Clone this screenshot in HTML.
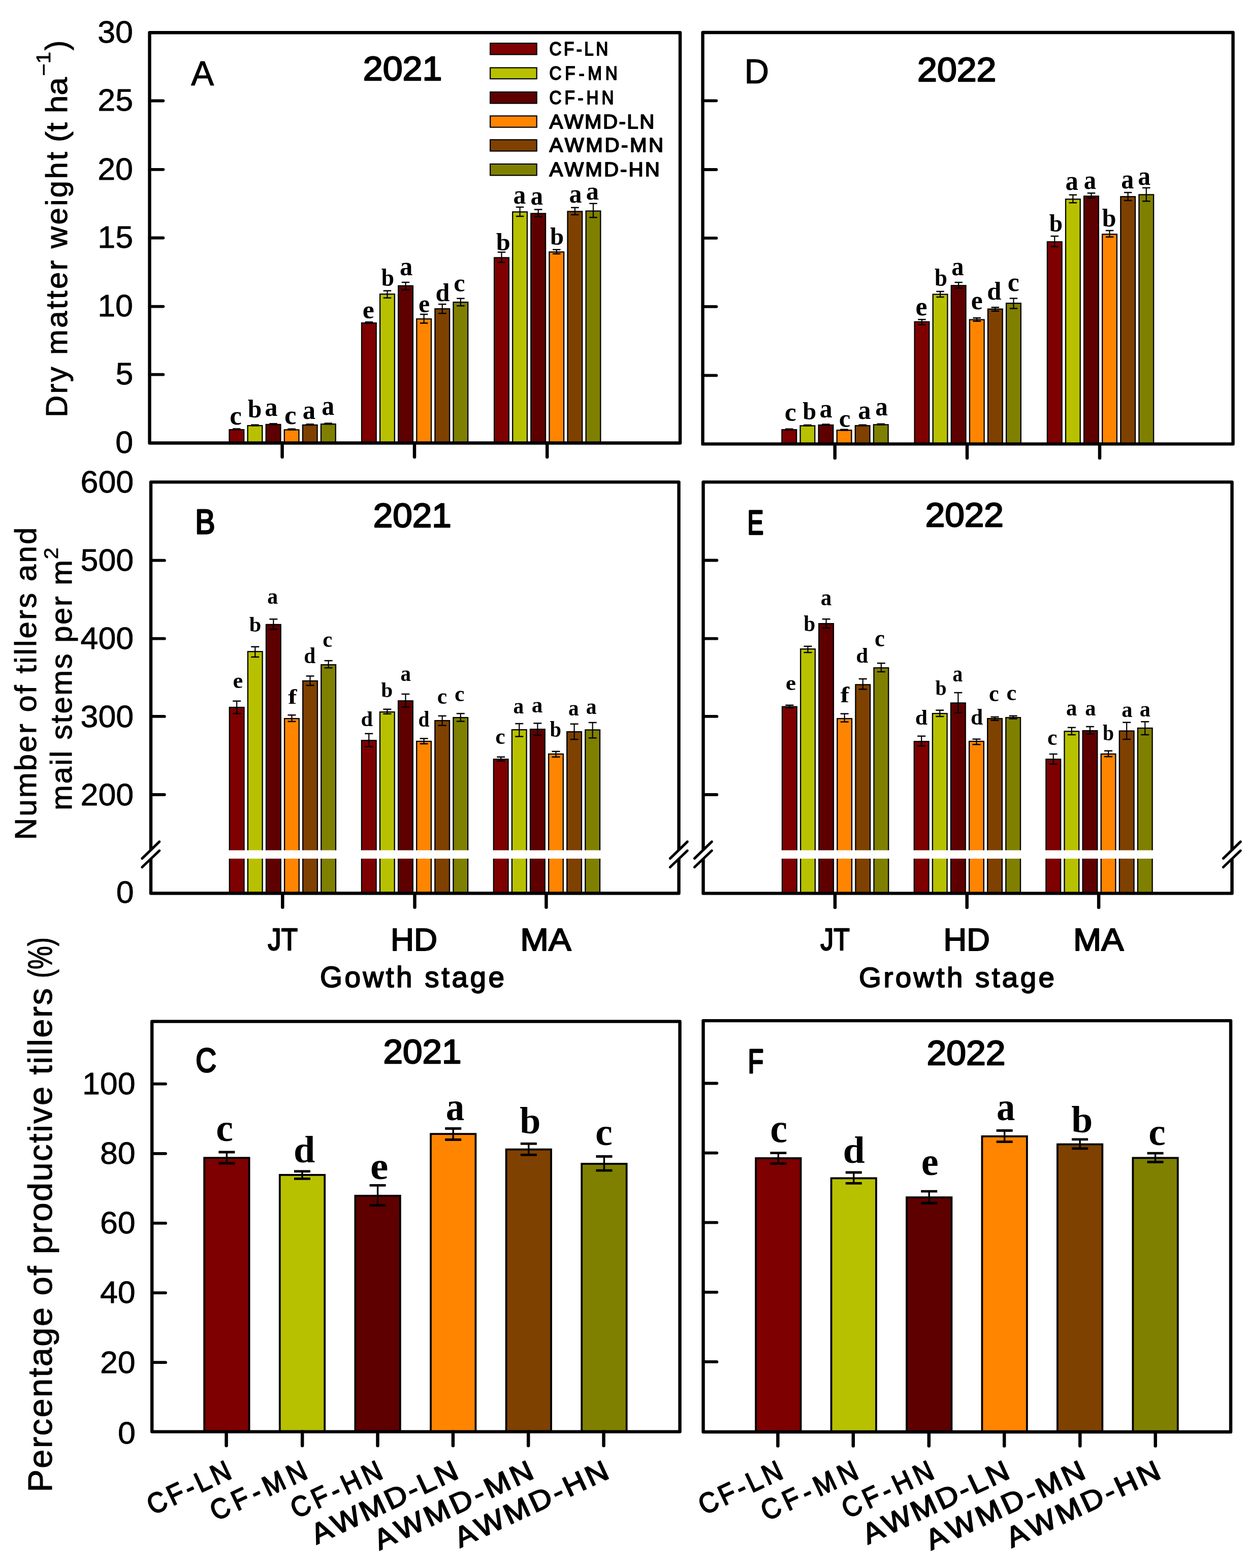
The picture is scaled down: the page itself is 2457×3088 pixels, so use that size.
<!DOCTYPE html>
<html><head><meta charset="utf-8"><title>Figure</title><style>html,body{margin:0;padding:0;background:#fff;width:2457px;height:3088px;overflow:hidden}text{font-kerning:none}</style></head><body>
<svg width="2457" height="3088" viewBox="0 0 2457 3088" style="display:block;font-kerning:none">
<rect x="0" y="0" width="2457" height="3088" fill="#fff"/>
<rect x="451.5" y="846.15" width="28.7" height="27.2" fill="#7e0000" stroke="#000" stroke-width="2.3"/>
<rect x="487.6" y="838.15" width="28.7" height="35.2" fill="#b8c100" stroke="#000" stroke-width="2.3"/>
<rect x="523.7" y="835.95" width="28.7" height="37.4" fill="#5e0000" stroke="#000" stroke-width="2.3"/>
<rect x="559.8" y="846.45" width="28.7" height="26.9" fill="#ff8500" stroke="#000" stroke-width="2.3"/>
<rect x="595.9" y="836.95" width="28.7" height="36.4" fill="#7f4100" stroke="#000" stroke-width="2.3"/>
<rect x="632" y="835.15" width="28.7" height="38.2" fill="#808000" stroke="#000" stroke-width="2.3"/>
<line x1="465.85" y1="844.5" x2="465.85" y2="846.1" stroke="#000" stroke-width="2.2" stroke-linecap="butt"/>
<line x1="458.1" y1="844.5" x2="473.6" y2="844.5" stroke="#000" stroke-width="2.5" stroke-linecap="butt"/>
<line x1="458.1" y1="846.1" x2="473.6" y2="846.1" stroke="#000" stroke-width="2.5" stroke-linecap="butt"/>
<line x1="501.95" y1="836.7" x2="501.95" y2="838.3" stroke="#000" stroke-width="2.2" stroke-linecap="butt"/>
<line x1="494.2" y1="836.7" x2="509.7" y2="836.7" stroke="#000" stroke-width="2.5" stroke-linecap="butt"/>
<line x1="494.2" y1="838.3" x2="509.7" y2="838.3" stroke="#000" stroke-width="2.5" stroke-linecap="butt"/>
<line x1="538.05" y1="834.4" x2="538.05" y2="836" stroke="#000" stroke-width="2.2" stroke-linecap="butt"/>
<line x1="530.3" y1="834.4" x2="545.8" y2="834.4" stroke="#000" stroke-width="2.5" stroke-linecap="butt"/>
<line x1="530.3" y1="836" x2="545.8" y2="836" stroke="#000" stroke-width="2.5" stroke-linecap="butt"/>
<line x1="574.15" y1="844.8" x2="574.15" y2="846.4" stroke="#000" stroke-width="2.2" stroke-linecap="butt"/>
<line x1="566.4" y1="844.8" x2="581.9" y2="844.8" stroke="#000" stroke-width="2.5" stroke-linecap="butt"/>
<line x1="566.4" y1="846.4" x2="581.9" y2="846.4" stroke="#000" stroke-width="2.5" stroke-linecap="butt"/>
<line x1="610.25" y1="835.4" x2="610.25" y2="837" stroke="#000" stroke-width="2.2" stroke-linecap="butt"/>
<line x1="602.5" y1="835.4" x2="618" y2="835.4" stroke="#000" stroke-width="2.5" stroke-linecap="butt"/>
<line x1="602.5" y1="837" x2="618" y2="837" stroke="#000" stroke-width="2.5" stroke-linecap="butt"/>
<line x1="646.35" y1="833.6" x2="646.35" y2="835.2" stroke="#000" stroke-width="2.2" stroke-linecap="butt"/>
<line x1="638.6" y1="833.6" x2="654.1" y2="833.6" stroke="#000" stroke-width="2.5" stroke-linecap="butt"/>
<line x1="638.6" y1="835.2" x2="654.1" y2="835.2" stroke="#000" stroke-width="2.5" stroke-linecap="butt"/>
<rect x="712" y="636.05" width="28.7" height="237.3" fill="#7e0000" stroke="#000" stroke-width="2.3"/>
<rect x="748.1" y="579.25" width="28.7" height="294.1" fill="#b8c100" stroke="#000" stroke-width="2.3"/>
<rect x="784.2" y="562.85" width="28.7" height="310.5" fill="#5e0000" stroke="#000" stroke-width="2.3"/>
<rect x="820.3" y="628.05" width="28.7" height="245.3" fill="#ff8500" stroke="#000" stroke-width="2.3"/>
<rect x="856.4" y="608.15" width="28.7" height="265.2" fill="#7f4100" stroke="#000" stroke-width="2.3"/>
<rect x="892.5" y="595.15" width="28.7" height="278.2" fill="#808000" stroke="#000" stroke-width="2.3"/>
<line x1="726.35" y1="634.2" x2="726.35" y2="636.6" stroke="#000" stroke-width="2.2" stroke-linecap="butt"/>
<line x1="718.6" y1="634.2" x2="734.1" y2="634.2" stroke="#000" stroke-width="2.5" stroke-linecap="butt"/>
<line x1="718.6" y1="636.6" x2="734.1" y2="636.6" stroke="#000" stroke-width="2.5" stroke-linecap="butt"/>
<line x1="762.45" y1="572.6" x2="762.45" y2="586.7" stroke="#000" stroke-width="2.2" stroke-linecap="butt"/>
<line x1="754.7" y1="572.6" x2="770.2" y2="572.6" stroke="#000" stroke-width="2.5" stroke-linecap="butt"/>
<line x1="754.7" y1="586.7" x2="770.2" y2="586.7" stroke="#000" stroke-width="2.5" stroke-linecap="butt"/>
<line x1="798.55" y1="556" x2="798.55" y2="570.9" stroke="#000" stroke-width="2.2" stroke-linecap="butt"/>
<line x1="790.8" y1="556" x2="806.3" y2="556" stroke="#000" stroke-width="2.5" stroke-linecap="butt"/>
<line x1="790.8" y1="570.9" x2="806.3" y2="570.9" stroke="#000" stroke-width="2.5" stroke-linecap="butt"/>
<line x1="834.65" y1="619" x2="834.65" y2="636.3" stroke="#000" stroke-width="2.2" stroke-linecap="butt"/>
<line x1="826.9" y1="619" x2="842.4" y2="619" stroke="#000" stroke-width="2.5" stroke-linecap="butt"/>
<line x1="826.9" y1="636.3" x2="842.4" y2="636.3" stroke="#000" stroke-width="2.5" stroke-linecap="butt"/>
<line x1="870.75" y1="599.1" x2="870.75" y2="617.2" stroke="#000" stroke-width="2.2" stroke-linecap="butt"/>
<line x1="863" y1="599.1" x2="878.5" y2="599.1" stroke="#000" stroke-width="2.5" stroke-linecap="butt"/>
<line x1="863" y1="617.2" x2="878.5" y2="617.2" stroke="#000" stroke-width="2.5" stroke-linecap="butt"/>
<line x1="906.85" y1="587.8" x2="906.85" y2="602.3" stroke="#000" stroke-width="2.2" stroke-linecap="butt"/>
<line x1="899.1" y1="587.8" x2="914.6" y2="587.8" stroke="#000" stroke-width="2.5" stroke-linecap="butt"/>
<line x1="899.1" y1="602.3" x2="914.6" y2="602.3" stroke="#000" stroke-width="2.5" stroke-linecap="butt"/>
<rect x="973.1" y="507.45" width="28.7" height="365.9" fill="#7e0000" stroke="#000" stroke-width="2.3"/>
<rect x="1009.2" y="417.35" width="28.7" height="456" fill="#b8c100" stroke="#000" stroke-width="2.3"/>
<rect x="1045.3" y="420.45" width="28.7" height="452.9" fill="#5e0000" stroke="#000" stroke-width="2.3"/>
<rect x="1081.4" y="496.25" width="28.7" height="377.1" fill="#ff8500" stroke="#000" stroke-width="2.3"/>
<rect x="1117.5" y="416.45" width="28.7" height="456.9" fill="#7f4100" stroke="#000" stroke-width="2.3"/>
<rect x="1153.6" y="415.55" width="28.7" height="457.8" fill="#808000" stroke="#000" stroke-width="2.3"/>
<line x1="987.45" y1="496.6" x2="987.45" y2="516.8" stroke="#000" stroke-width="2.2" stroke-linecap="butt"/>
<line x1="979.7" y1="496.6" x2="995.2" y2="496.6" stroke="#000" stroke-width="2.5" stroke-linecap="butt"/>
<line x1="979.7" y1="516.8" x2="995.2" y2="516.8" stroke="#000" stroke-width="2.5" stroke-linecap="butt"/>
<line x1="1023.55" y1="407.9" x2="1023.55" y2="426" stroke="#000" stroke-width="2.2" stroke-linecap="butt"/>
<line x1="1015.8" y1="407.9" x2="1031.3" y2="407.9" stroke="#000" stroke-width="2.5" stroke-linecap="butt"/>
<line x1="1015.8" y1="426" x2="1031.3" y2="426" stroke="#000" stroke-width="2.5" stroke-linecap="butt"/>
<line x1="1059.65" y1="412.6" x2="1059.65" y2="426.7" stroke="#000" stroke-width="2.2" stroke-linecap="butt"/>
<line x1="1051.9" y1="412.6" x2="1067.4" y2="412.6" stroke="#000" stroke-width="2.5" stroke-linecap="butt"/>
<line x1="1051.9" y1="426.7" x2="1067.4" y2="426.7" stroke="#000" stroke-width="2.5" stroke-linecap="butt"/>
<line x1="1095.75" y1="491.6" x2="1095.75" y2="499.9" stroke="#000" stroke-width="2.2" stroke-linecap="butt"/>
<line x1="1088" y1="491.6" x2="1103.5" y2="491.6" stroke="#000" stroke-width="2.5" stroke-linecap="butt"/>
<line x1="1088" y1="499.9" x2="1103.5" y2="499.9" stroke="#000" stroke-width="2.5" stroke-linecap="butt"/>
<line x1="1131.85" y1="408.8" x2="1131.85" y2="422.9" stroke="#000" stroke-width="2.2" stroke-linecap="butt"/>
<line x1="1124.1" y1="408.8" x2="1139.6" y2="408.8" stroke="#000" stroke-width="2.5" stroke-linecap="butt"/>
<line x1="1124.1" y1="422.9" x2="1139.6" y2="422.9" stroke="#000" stroke-width="2.5" stroke-linecap="butt"/>
<line x1="1167.95" y1="400.8" x2="1167.95" y2="428.2" stroke="#000" stroke-width="2.2" stroke-linecap="butt"/>
<line x1="1160.2" y1="400.8" x2="1175.7" y2="400.8" stroke="#000" stroke-width="2.5" stroke-linecap="butt"/>
<line x1="1160.2" y1="428.2" x2="1175.7" y2="428.2" stroke="#000" stroke-width="2.5" stroke-linecap="butt"/>
<text transform="translate(452.29,836) scale(0.99,1)" font-family='"Liberation Serif", "Times New Roman", serif' font-weight="700" font-size="53.7">c</text>
<text transform="translate(487.67,821.51) scale(1,1)" font-family='"Liberation Serif", "Times New Roman", serif' font-weight="700" font-size="49.74">b</text>
<text transform="translate(521.37,819.28) scale(0.95,1)" font-family='"Liberation Serif", "Times New Roman", serif' font-weight="700" font-size="53.24">a</text>
<text transform="translate(560.09,834.61) scale(1,1)" font-family='"Liberation Serif", "Times New Roman", serif' font-weight="700" font-size="53.07">c</text>
<text transform="translate(595.67,825.09) scale(0.98,1)" font-family='"Liberation Serif", "Times New Roman", serif' font-weight="700" font-size="51.77">a</text>
<text transform="translate(633.19,817.06) scale(0.91,1)" font-family='"Liberation Serif", "Times New Roman", serif' font-weight="700" font-size="54.91">a</text>
<text transform="translate(713.83,627.32) scale(1.01,1)" font-family='"Liberation Serif", "Times New Roman", serif' font-weight="700" font-size="51.51">e</text>
<text transform="translate(750.82,563.02) scale(0.93,1)" font-family='"Liberation Serif", "Times New Roman", serif' font-weight="700" font-size="48.89">b</text>
<text transform="translate(787.07,541.78) scale(0.95,1)" font-family='"Liberation Serif", "Times New Roman", serif' font-weight="700" font-size="53.44">a</text>
<text transform="translate(824.08,615.04) scale(1.01,1)" font-family='"Liberation Serif", "Times New Roman", serif' font-weight="700" font-size="49.64">e</text>
<text transform="translate(857.58,592.62) scale(1.01,1)" font-family='"Liberation Serif", "Times New Roman", serif' font-weight="700" font-size="49.6">d</text>
<text transform="translate(893.18,573.52) scale(0.98,1)" font-family='"Liberation Serif", "Times New Roman", serif' font-weight="700" font-size="51.2">c</text>
<text transform="translate(976.66,492.93) scale(1.04,1)" font-family='"Liberation Serif", "Times New Roman", serif' font-weight="700" font-size="48.32">b</text>
<text transform="translate(1010.39,401.18) scale(0.93,1)" font-family='"Liberation Serif", "Times New Roman", serif' font-weight="700" font-size="53.44">a</text>
<text transform="translate(1044.51,403.28) scale(0.93,1)" font-family='"Liberation Serif", "Times New Roman", serif' font-weight="700" font-size="53.03">a</text>
<text transform="translate(1082.88,482.02) scale(0.99,1)" font-family='"Liberation Serif", "Times New Roman", serif' font-weight="700" font-size="49.17">b</text>
<text transform="translate(1120.59,399.38) scale(0.94,1)" font-family='"Liberation Serif", "Times New Roman", serif' font-weight="700" font-size="53.24">a</text>
<text transform="translate(1153.77,393.3) scale(0.98,1)" font-family='"Liberation Serif", "Times New Roman", serif' font-weight="700" font-size="51.57">a</text>
<rect x="1539.4" y="846.25" width="28.7" height="29" fill="#7e0000" stroke="#000" stroke-width="2.3"/>
<rect x="1575.5" y="838.45" width="28.7" height="36.8" fill="#b8c100" stroke="#000" stroke-width="2.3"/>
<rect x="1611.6" y="837.05" width="28.7" height="38.2" fill="#5e0000" stroke="#000" stroke-width="2.3"/>
<rect x="1647.7" y="847.25" width="28.7" height="28" fill="#ff8500" stroke="#000" stroke-width="2.3"/>
<rect x="1683.8" y="838.25" width="28.7" height="37" fill="#7f4100" stroke="#000" stroke-width="2.3"/>
<rect x="1719.9" y="836.35" width="28.7" height="38.9" fill="#808000" stroke="#000" stroke-width="2.3"/>
<line x1="1553.75" y1="844.8" x2="1553.75" y2="846.4" stroke="#000" stroke-width="2.2" stroke-linecap="butt"/>
<line x1="1546" y1="844.8" x2="1561.5" y2="844.8" stroke="#000" stroke-width="2.5" stroke-linecap="butt"/>
<line x1="1546" y1="846.4" x2="1561.5" y2="846.4" stroke="#000" stroke-width="2.5" stroke-linecap="butt"/>
<line x1="1589.85" y1="837" x2="1589.85" y2="838.6" stroke="#000" stroke-width="2.2" stroke-linecap="butt"/>
<line x1="1582.1" y1="837" x2="1597.6" y2="837" stroke="#000" stroke-width="2.5" stroke-linecap="butt"/>
<line x1="1582.1" y1="838.6" x2="1597.6" y2="838.6" stroke="#000" stroke-width="2.5" stroke-linecap="butt"/>
<line x1="1625.95" y1="835.6" x2="1625.95" y2="837.2" stroke="#000" stroke-width="2.2" stroke-linecap="butt"/>
<line x1="1618.2" y1="835.6" x2="1633.7" y2="835.6" stroke="#000" stroke-width="2.5" stroke-linecap="butt"/>
<line x1="1618.2" y1="837.2" x2="1633.7" y2="837.2" stroke="#000" stroke-width="2.5" stroke-linecap="butt"/>
<line x1="1662.05" y1="845.8" x2="1662.05" y2="847.4" stroke="#000" stroke-width="2.2" stroke-linecap="butt"/>
<line x1="1654.3" y1="845.8" x2="1669.8" y2="845.8" stroke="#000" stroke-width="2.5" stroke-linecap="butt"/>
<line x1="1654.3" y1="847.4" x2="1669.8" y2="847.4" stroke="#000" stroke-width="2.5" stroke-linecap="butt"/>
<line x1="1698.15" y1="836.8" x2="1698.15" y2="838.4" stroke="#000" stroke-width="2.2" stroke-linecap="butt"/>
<line x1="1690.4" y1="836.8" x2="1705.9" y2="836.8" stroke="#000" stroke-width="2.5" stroke-linecap="butt"/>
<line x1="1690.4" y1="838.4" x2="1705.9" y2="838.4" stroke="#000" stroke-width="2.5" stroke-linecap="butt"/>
<line x1="1734.25" y1="834.9" x2="1734.25" y2="836.5" stroke="#000" stroke-width="2.2" stroke-linecap="butt"/>
<line x1="1726.5" y1="834.9" x2="1742" y2="834.9" stroke="#000" stroke-width="2.5" stroke-linecap="butt"/>
<line x1="1726.5" y1="836.5" x2="1742" y2="836.5" stroke="#000" stroke-width="2.5" stroke-linecap="butt"/>
<rect x="1800.6" y="633.75" width="28.7" height="241.5" fill="#7e0000" stroke="#000" stroke-width="2.3"/>
<rect x="1836.7" y="579.65" width="28.7" height="295.6" fill="#b8c100" stroke="#000" stroke-width="2.3"/>
<rect x="1872.8" y="562.35" width="28.7" height="312.9" fill="#5e0000" stroke="#000" stroke-width="2.3"/>
<rect x="1908.9" y="629.55" width="28.7" height="245.7" fill="#ff8500" stroke="#000" stroke-width="2.3"/>
<rect x="1945" y="608.65" width="28.7" height="266.6" fill="#7f4100" stroke="#000" stroke-width="2.3"/>
<rect x="1981.1" y="597.25" width="28.7" height="278" fill="#808000" stroke="#000" stroke-width="2.3"/>
<line x1="1814.95" y1="629.2" x2="1814.95" y2="639.3" stroke="#000" stroke-width="2.2" stroke-linecap="butt"/>
<line x1="1807.2" y1="629.2" x2="1822.7" y2="629.2" stroke="#000" stroke-width="2.5" stroke-linecap="butt"/>
<line x1="1807.2" y1="639.3" x2="1822.7" y2="639.3" stroke="#000" stroke-width="2.5" stroke-linecap="butt"/>
<line x1="1851.05" y1="574" x2="1851.05" y2="585" stroke="#000" stroke-width="2.2" stroke-linecap="butt"/>
<line x1="1843.3" y1="574" x2="1858.8" y2="574" stroke="#000" stroke-width="2.5" stroke-linecap="butt"/>
<line x1="1843.3" y1="585" x2="1858.8" y2="585" stroke="#000" stroke-width="2.5" stroke-linecap="butt"/>
<line x1="1887.15" y1="556.1" x2="1887.15" y2="567.5" stroke="#000" stroke-width="2.2" stroke-linecap="butt"/>
<line x1="1879.4" y1="556.1" x2="1894.9" y2="556.1" stroke="#000" stroke-width="2.5" stroke-linecap="butt"/>
<line x1="1879.4" y1="567.5" x2="1894.9" y2="567.5" stroke="#000" stroke-width="2.5" stroke-linecap="butt"/>
<line x1="1923.25" y1="626.1" x2="1923.25" y2="632.6" stroke="#000" stroke-width="2.2" stroke-linecap="butt"/>
<line x1="1915.5" y1="626.1" x2="1931" y2="626.1" stroke="#000" stroke-width="2.5" stroke-linecap="butt"/>
<line x1="1915.5" y1="632.6" x2="1931" y2="632.6" stroke="#000" stroke-width="2.5" stroke-linecap="butt"/>
<line x1="1959.35" y1="605.3" x2="1959.35" y2="612.8" stroke="#000" stroke-width="2.2" stroke-linecap="butt"/>
<line x1="1951.6" y1="605.3" x2="1967.1" y2="605.3" stroke="#000" stroke-width="2.5" stroke-linecap="butt"/>
<line x1="1951.6" y1="612.8" x2="1967.1" y2="612.8" stroke="#000" stroke-width="2.5" stroke-linecap="butt"/>
<line x1="1995.45" y1="587.6" x2="1995.45" y2="607.5" stroke="#000" stroke-width="2.2" stroke-linecap="butt"/>
<line x1="1987.7" y1="587.6" x2="2003.2" y2="587.6" stroke="#000" stroke-width="2.5" stroke-linecap="butt"/>
<line x1="1987.7" y1="607.5" x2="2003.2" y2="607.5" stroke="#000" stroke-width="2.5" stroke-linecap="butt"/>
<rect x="2061.9" y="476.25" width="28.7" height="399" fill="#7e0000" stroke="#000" stroke-width="2.3"/>
<rect x="2098" y="392.25" width="28.7" height="483" fill="#b8c100" stroke="#000" stroke-width="2.3"/>
<rect x="2134.1" y="386.35" width="28.7" height="488.9" fill="#5e0000" stroke="#000" stroke-width="2.3"/>
<rect x="2170.2" y="461.35" width="28.7" height="413.9" fill="#ff8500" stroke="#000" stroke-width="2.3"/>
<rect x="2206.3" y="387.25" width="28.7" height="488" fill="#7f4100" stroke="#000" stroke-width="2.3"/>
<rect x="2242.4" y="383.35" width="28.7" height="491.9" fill="#808000" stroke="#000" stroke-width="2.3"/>
<line x1="2076.25" y1="465.1" x2="2076.25" y2="485.7" stroke="#000" stroke-width="2.2" stroke-linecap="butt"/>
<line x1="2068.5" y1="465.1" x2="2084" y2="465.1" stroke="#000" stroke-width="2.5" stroke-linecap="butt"/>
<line x1="2068.5" y1="485.7" x2="2084" y2="485.7" stroke="#000" stroke-width="2.5" stroke-linecap="butt"/>
<line x1="2112.35" y1="383.8" x2="2112.35" y2="399.3" stroke="#000" stroke-width="2.2" stroke-linecap="butt"/>
<line x1="2104.6" y1="383.8" x2="2120.1" y2="383.8" stroke="#000" stroke-width="2.5" stroke-linecap="butt"/>
<line x1="2104.6" y1="399.3" x2="2120.1" y2="399.3" stroke="#000" stroke-width="2.5" stroke-linecap="butt"/>
<line x1="2148.45" y1="380.3" x2="2148.45" y2="390" stroke="#000" stroke-width="2.2" stroke-linecap="butt"/>
<line x1="2140.7" y1="380.3" x2="2156.2" y2="380.3" stroke="#000" stroke-width="2.5" stroke-linecap="butt"/>
<line x1="2140.7" y1="390" x2="2156.2" y2="390" stroke="#000" stroke-width="2.5" stroke-linecap="butt"/>
<line x1="2184.55" y1="454" x2="2184.55" y2="466.7" stroke="#000" stroke-width="2.2" stroke-linecap="butt"/>
<line x1="2176.8" y1="454" x2="2192.3" y2="454" stroke="#000" stroke-width="2.5" stroke-linecap="butt"/>
<line x1="2176.8" y1="466.7" x2="2192.3" y2="466.7" stroke="#000" stroke-width="2.5" stroke-linecap="butt"/>
<line x1="2220.65" y1="379.1" x2="2220.65" y2="394.9" stroke="#000" stroke-width="2.2" stroke-linecap="butt"/>
<line x1="2212.9" y1="379.1" x2="2228.4" y2="379.1" stroke="#000" stroke-width="2.5" stroke-linecap="butt"/>
<line x1="2212.9" y1="394.9" x2="2228.4" y2="394.9" stroke="#000" stroke-width="2.5" stroke-linecap="butt"/>
<line x1="2256.75" y1="369.9" x2="2256.75" y2="396.2" stroke="#000" stroke-width="2.2" stroke-linecap="butt"/>
<line x1="2249" y1="369.9" x2="2264.5" y2="369.9" stroke="#000" stroke-width="2.5" stroke-linecap="butt"/>
<line x1="2249" y1="396.2" x2="2264.5" y2="396.2" stroke="#000" stroke-width="2.5" stroke-linecap="butt"/>
<text transform="translate(1544.73,829.32) scale(0.99,1)" font-family='"Liberation Serif", "Times New Roman", serif' font-weight="700" font-size="52.24">c</text>
<text transform="translate(1580.28,826.42) scale(0.98,1)" font-family='"Liberation Serif", "Times New Roman", serif' font-weight="700" font-size="49.32">b</text>
<text transform="translate(1613.38,822.28) scale(0.95,1)" font-family='"Liberation Serif", "Times New Roman", serif' font-weight="700" font-size="53.03">a</text>
<text transform="translate(1651.65,841.22) scale(0.99,1)" font-family='"Liberation Serif", "Times New Roman", serif' font-weight="700" font-size="51.62">c</text>
<text transform="translate(1689.18,824.59) scale(0.96,1)" font-family='"Liberation Serif", "Times New Roman", serif' font-weight="700" font-size="52.61">a</text>
<text transform="translate(1723.21,817.59) scale(0.94,1)" font-family='"Liberation Serif", "Times New Roman", serif' font-weight="700" font-size="52.4">a</text>
<text transform="translate(1802.54,621.2) scale(0.97,1)" font-family='"Liberation Serif", "Times New Roman", serif' font-weight="700" font-size="53.39">e</text>
<text transform="translate(1839.93,563.02) scale(0.92,1)" font-family='"Liberation Serif", "Times New Roman", serif' font-weight="700" font-size="48.89">b</text>
<text transform="translate(1873.13,541.78) scale(0.91,1)" font-family='"Liberation Serif", "Times New Roman", serif' font-weight="700" font-size="53.44">a</text>
<text transform="translate(1911.73,608.51) scale(0.98,1)" font-family='"Liberation Serif", "Times New Roman", serif' font-weight="700" font-size="52.76">e</text>
<text transform="translate(1943.14,589.91) scale(1.01,1)" font-family='"Liberation Serif", "Times New Roman", serif' font-weight="700" font-size="50.03">d</text>
<text transform="translate(1983.63,573.2) scale(0.97,1)" font-family='"Liberation Serif", "Times New Roman", serif' font-weight="700" font-size="53.49">c</text>
<text transform="translate(2065.8,456.12) scale(0.97,1)" font-family='"Liberation Serif", "Times New Roman", serif' font-weight="700" font-size="48.75">b</text>
<text transform="translate(2097.47,374.47) scale(0.94,1)" font-family='"Liberation Serif", "Times New Roman", serif' font-weight="700" font-size="54.07">a</text>
<text transform="translate(2133.63,372.38) scale(0.91,1)" font-family='"Liberation Serif", "Times New Roman", serif' font-weight="700" font-size="53.44">a</text>
<text transform="translate(2169.87,445.6) scale(0.98,1)" font-family='"Liberation Serif", "Times New Roman", serif' font-weight="700" font-size="50.88">b</text>
<text transform="translate(2207.28,370.57) scale(0.92,1)" font-family='"Liberation Serif", "Times New Roman", serif' font-weight="700" font-size="54.49">a</text>
<text transform="translate(2240.31,363.58) scale(0.93,1)" font-family='"Liberation Serif", "Times New Roman", serif' font-weight="700" font-size="53.44">a</text>
<rect x="451.8" y="1393.05" width="28.7" height="367.1" fill="#7e0000" stroke="#000" stroke-width="2.3"/>
<rect x="487.9" y="1283.15" width="28.7" height="477" fill="#b8c100" stroke="#000" stroke-width="2.3"/>
<rect x="524" y="1229.95" width="28.7" height="530.2" fill="#5e0000" stroke="#000" stroke-width="2.3"/>
<rect x="560.1" y="1415.15" width="28.7" height="345" fill="#ff8500" stroke="#000" stroke-width="2.3"/>
<rect x="596.2" y="1340.95" width="28.7" height="419.2" fill="#7f4100" stroke="#000" stroke-width="2.3"/>
<rect x="632.3" y="1309.15" width="28.7" height="451" fill="#808000" stroke="#000" stroke-width="2.3"/>
<line x1="466.15" y1="1380.7" x2="466.15" y2="1405.3" stroke="#000" stroke-width="2.2" stroke-linecap="butt"/>
<line x1="458.15" y1="1380.7" x2="474.15" y2="1380.7" stroke="#000" stroke-width="2.5" stroke-linecap="butt"/>
<line x1="458.15" y1="1405.3" x2="474.15" y2="1405.3" stroke="#000" stroke-width="2.5" stroke-linecap="butt"/>
<line x1="502.25" y1="1273.7" x2="502.25" y2="1293.9" stroke="#000" stroke-width="2.2" stroke-linecap="butt"/>
<line x1="494.25" y1="1273.7" x2="510.25" y2="1273.7" stroke="#000" stroke-width="2.5" stroke-linecap="butt"/>
<line x1="494.25" y1="1293.9" x2="510.25" y2="1293.9" stroke="#000" stroke-width="2.5" stroke-linecap="butt"/>
<line x1="538.35" y1="1219.3" x2="538.35" y2="1239.5" stroke="#000" stroke-width="2.2" stroke-linecap="butt"/>
<line x1="530.35" y1="1219.3" x2="546.35" y2="1219.3" stroke="#000" stroke-width="2.5" stroke-linecap="butt"/>
<line x1="530.35" y1="1239.5" x2="546.35" y2="1239.5" stroke="#000" stroke-width="2.5" stroke-linecap="butt"/>
<line x1="574.45" y1="1408.2" x2="574.45" y2="1420.9" stroke="#000" stroke-width="2.2" stroke-linecap="butt"/>
<line x1="566.45" y1="1408.2" x2="582.45" y2="1408.2" stroke="#000" stroke-width="2.5" stroke-linecap="butt"/>
<line x1="566.45" y1="1420.9" x2="582.45" y2="1420.9" stroke="#000" stroke-width="2.5" stroke-linecap="butt"/>
<line x1="610.55" y1="1331.4" x2="610.55" y2="1349.8" stroke="#000" stroke-width="2.2" stroke-linecap="butt"/>
<line x1="602.55" y1="1331.4" x2="618.55" y2="1331.4" stroke="#000" stroke-width="2.5" stroke-linecap="butt"/>
<line x1="602.55" y1="1349.8" x2="618.55" y2="1349.8" stroke="#000" stroke-width="2.5" stroke-linecap="butt"/>
<line x1="646.65" y1="1301.1" x2="646.65" y2="1315.3" stroke="#000" stroke-width="2.2" stroke-linecap="butt"/>
<line x1="638.65" y1="1301.1" x2="654.65" y2="1301.1" stroke="#000" stroke-width="2.5" stroke-linecap="butt"/>
<line x1="638.65" y1="1315.3" x2="654.65" y2="1315.3" stroke="#000" stroke-width="2.5" stroke-linecap="butt"/>
<rect x="711.9" y="1458.15" width="28.7" height="302" fill="#7e0000" stroke="#000" stroke-width="2.3"/>
<rect x="748" y="1402.15" width="28.7" height="358" fill="#b8c100" stroke="#000" stroke-width="2.3"/>
<rect x="784.1" y="1380.25" width="28.7" height="379.9" fill="#5e0000" stroke="#000" stroke-width="2.3"/>
<rect x="820.2" y="1459.95" width="28.7" height="300.2" fill="#ff8500" stroke="#000" stroke-width="2.3"/>
<rect x="856.3" y="1419.15" width="28.7" height="341" fill="#7f4100" stroke="#000" stroke-width="2.3"/>
<rect x="892.4" y="1413.15" width="28.7" height="347" fill="#808000" stroke="#000" stroke-width="2.3"/>
<line x1="726.25" y1="1444.8" x2="726.25" y2="1470.4" stroke="#000" stroke-width="2.2" stroke-linecap="butt"/>
<line x1="718.25" y1="1444.8" x2="734.25" y2="1444.8" stroke="#000" stroke-width="2.5" stroke-linecap="butt"/>
<line x1="718.25" y1="1470.4" x2="734.25" y2="1470.4" stroke="#000" stroke-width="2.5" stroke-linecap="butt"/>
<line x1="762.35" y1="1396.8" x2="762.35" y2="1405.9" stroke="#000" stroke-width="2.2" stroke-linecap="butt"/>
<line x1="754.35" y1="1396.8" x2="770.35" y2="1396.8" stroke="#000" stroke-width="2.5" stroke-linecap="butt"/>
<line x1="754.35" y1="1405.9" x2="770.35" y2="1405.9" stroke="#000" stroke-width="2.5" stroke-linecap="butt"/>
<line x1="798.45" y1="1366.9" x2="798.45" y2="1392.4" stroke="#000" stroke-width="2.2" stroke-linecap="butt"/>
<line x1="790.45" y1="1366.9" x2="806.45" y2="1366.9" stroke="#000" stroke-width="2.5" stroke-linecap="butt"/>
<line x1="790.45" y1="1392.4" x2="806.45" y2="1392.4" stroke="#000" stroke-width="2.5" stroke-linecap="butt"/>
<line x1="834.55" y1="1454.4" x2="834.55" y2="1464.8" stroke="#000" stroke-width="2.2" stroke-linecap="butt"/>
<line x1="826.55" y1="1454.4" x2="842.55" y2="1454.4" stroke="#000" stroke-width="2.5" stroke-linecap="butt"/>
<line x1="826.55" y1="1464.8" x2="842.55" y2="1464.8" stroke="#000" stroke-width="2.5" stroke-linecap="butt"/>
<line x1="870.65" y1="1409.9" x2="870.65" y2="1428.7" stroke="#000" stroke-width="2.2" stroke-linecap="butt"/>
<line x1="862.65" y1="1409.9" x2="878.65" y2="1409.9" stroke="#000" stroke-width="2.5" stroke-linecap="butt"/>
<line x1="862.65" y1="1428.7" x2="878.65" y2="1428.7" stroke="#000" stroke-width="2.5" stroke-linecap="butt"/>
<line x1="906.75" y1="1405.2" x2="906.75" y2="1420.6" stroke="#000" stroke-width="2.2" stroke-linecap="butt"/>
<line x1="898.75" y1="1405.2" x2="914.75" y2="1405.2" stroke="#000" stroke-width="2.5" stroke-linecap="butt"/>
<line x1="898.75" y1="1420.6" x2="914.75" y2="1420.6" stroke="#000" stroke-width="2.5" stroke-linecap="butt"/>
<rect x="971.8" y="1495.25" width="28.7" height="264.9" fill="#7e0000" stroke="#000" stroke-width="2.3"/>
<rect x="1007.9" y="1437.15" width="28.7" height="323" fill="#b8c100" stroke="#000" stroke-width="2.3"/>
<rect x="1044" y="1436.25" width="28.7" height="323.9" fill="#5e0000" stroke="#000" stroke-width="2.3"/>
<rect x="1080.1" y="1484.95" width="28.7" height="275.2" fill="#ff8500" stroke="#000" stroke-width="2.3"/>
<rect x="1116.2" y="1441.15" width="28.7" height="319" fill="#7f4100" stroke="#000" stroke-width="2.3"/>
<rect x="1152.3" y="1437.45" width="28.7" height="322.7" fill="#808000" stroke="#000" stroke-width="2.3"/>
<line x1="986.15" y1="1490.8" x2="986.15" y2="1498.8" stroke="#000" stroke-width="2.2" stroke-linecap="butt"/>
<line x1="978.15" y1="1490.8" x2="994.15" y2="1490.8" stroke="#000" stroke-width="2.5" stroke-linecap="butt"/>
<line x1="978.15" y1="1498.8" x2="994.15" y2="1498.8" stroke="#000" stroke-width="2.5" stroke-linecap="butt"/>
<line x1="1022.25" y1="1425.1" x2="1022.25" y2="1450.5" stroke="#000" stroke-width="2.2" stroke-linecap="butt"/>
<line x1="1014.25" y1="1425.1" x2="1030.25" y2="1425.1" stroke="#000" stroke-width="2.5" stroke-linecap="butt"/>
<line x1="1014.25" y1="1450.5" x2="1030.25" y2="1450.5" stroke="#000" stroke-width="2.5" stroke-linecap="butt"/>
<line x1="1058.35" y1="1424.4" x2="1058.35" y2="1447.9" stroke="#000" stroke-width="2.2" stroke-linecap="butt"/>
<line x1="1050.35" y1="1424.4" x2="1066.35" y2="1424.4" stroke="#000" stroke-width="2.5" stroke-linecap="butt"/>
<line x1="1050.35" y1="1447.9" x2="1066.35" y2="1447.9" stroke="#000" stroke-width="2.5" stroke-linecap="butt"/>
<line x1="1094.45" y1="1479.9" x2="1094.45" y2="1490.8" stroke="#000" stroke-width="2.2" stroke-linecap="butt"/>
<line x1="1086.45" y1="1479.9" x2="1102.45" y2="1479.9" stroke="#000" stroke-width="2.5" stroke-linecap="butt"/>
<line x1="1086.45" y1="1490.8" x2="1102.45" y2="1490.8" stroke="#000" stroke-width="2.5" stroke-linecap="butt"/>
<line x1="1130.55" y1="1425.8" x2="1130.55" y2="1456.1" stroke="#000" stroke-width="2.2" stroke-linecap="butt"/>
<line x1="1122.55" y1="1425.8" x2="1138.55" y2="1425.8" stroke="#000" stroke-width="2.5" stroke-linecap="butt"/>
<line x1="1122.55" y1="1456.1" x2="1138.55" y2="1456.1" stroke="#000" stroke-width="2.5" stroke-linecap="butt"/>
<line x1="1166.65" y1="1423" x2="1166.65" y2="1453.3" stroke="#000" stroke-width="2.2" stroke-linecap="butt"/>
<line x1="1158.65" y1="1423" x2="1174.65" y2="1423" stroke="#000" stroke-width="2.5" stroke-linecap="butt"/>
<line x1="1158.65" y1="1453.3" x2="1174.65" y2="1453.3" stroke="#000" stroke-width="2.5" stroke-linecap="butt"/>
<text transform="translate(458.38,1355.49) scale(1.02,1)" font-family='"Liberation Serif", "Times New Roman", serif' font-weight="700" font-size="43.8">e</text>
<text transform="translate(490.76,1243.69) scale(1,1)" font-family='"Liberation Serif", "Times New Roman", serif' font-weight="700" font-size="42.35">b</text>
<text transform="translate(526.34,1188.56) scale(0.94,1)" font-family='"Liberation Serif", "Times New Roman", serif' font-weight="700" font-size="44.68">a</text>
<text transform="translate(567.12,1385.7) scale(1.24,1)" font-family='"Liberation Serif", "Times New Roman", serif' font-weight="700" font-size="42.32">f</text>
<text transform="translate(598.32,1306.48) scale(0.95,1)" font-family='"Liberation Serif", "Times New Roman", serif' font-weight="700" font-size="43.49">d</text>
<text transform="translate(635.23,1274.38) scale(0.96,1)" font-family='"Liberation Serif", "Times New Roman", serif' font-weight="700" font-size="44.75">c</text>
<text transform="translate(710.59,1430.39) scale(1,1)" font-family='"Liberation Serif", "Times New Roman", serif' font-weight="700" font-size="42.35">d</text>
<text transform="translate(750.17,1373.08) scale(0.96,1)" font-family='"Liberation Serif", "Times New Roman", serif' font-weight="700" font-size="43.21">b</text>
<text transform="translate(788.47,1340.56) scale(0.92,1)" font-family='"Liberation Serif", "Times New Roman", serif' font-weight="700" font-size="44.68">a</text>
<text transform="translate(823.41,1431.37) scale(0.9,1)" font-family='"Liberation Serif", "Times New Roman", serif' font-weight="700" font-size="43.77">d</text>
<text transform="translate(860.81,1386.38) scale(0.97,1)" font-family='"Liberation Serif", "Times New Roman", serif' font-weight="700" font-size="45.16">c</text>
<text transform="translate(895.11,1381.49) scale(1,1)" font-family='"Liberation Serif", "Times New Roman", serif' font-weight="700" font-size="43.71">c</text>
<text transform="translate(975.31,1464.59) scale(1,1)" font-family='"Liberation Serif", "Times New Roman", serif' font-weight="700" font-size="43.71">c</text>
<text transform="translate(1010.45,1405.46) scale(0.93,1)" font-family='"Liberation Serif", "Times New Roman", serif' font-weight="700" font-size="44.68">a</text>
<text transform="translate(1046.8,1402.66) scale(0.97,1)" font-family='"Liberation Serif", "Times New Roman", serif' font-weight="700" font-size="44.68">a</text>
<text transform="translate(1082.59,1451.47) scale(0.93,1)" font-family='"Liberation Serif", "Times New Roman", serif' font-weight="700" font-size="43.63">b</text>
<text transform="translate(1118.88,1409.26) scale(0.91,1)" font-family='"Liberation Serif", "Times New Roman", serif' font-weight="700" font-size="45.3">a</text>
<text transform="translate(1153.85,1406.46) scale(0.92,1)" font-family='"Liberation Serif", "Times New Roman", serif' font-weight="700" font-size="45.3">a</text>
<rect x="1540" y="1391.75" width="28.7" height="368.5" fill="#7e0000" stroke="#000" stroke-width="2.3"/>
<rect x="1576.1" y="1278.15" width="28.7" height="482.1" fill="#b8c100" stroke="#000" stroke-width="2.3"/>
<rect x="1612.2" y="1228.15" width="28.7" height="532.1" fill="#5e0000" stroke="#000" stroke-width="2.3"/>
<rect x="1648.3" y="1415.15" width="28.7" height="345.1" fill="#ff8500" stroke="#000" stroke-width="2.3"/>
<rect x="1684.4" y="1348.35" width="28.7" height="411.9" fill="#7f4100" stroke="#000" stroke-width="2.3"/>
<rect x="1720.5" y="1315.25" width="28.7" height="445" fill="#808000" stroke="#000" stroke-width="2.3"/>
<line x1="1554.35" y1="1388.8" x2="1554.35" y2="1394.1" stroke="#000" stroke-width="2.2" stroke-linecap="butt"/>
<line x1="1546.35" y1="1388.8" x2="1562.35" y2="1388.8" stroke="#000" stroke-width="2.5" stroke-linecap="butt"/>
<line x1="1546.35" y1="1394.1" x2="1562.35" y2="1394.1" stroke="#000" stroke-width="2.5" stroke-linecap="butt"/>
<line x1="1590.45" y1="1272.8" x2="1590.45" y2="1285" stroke="#000" stroke-width="2.2" stroke-linecap="butt"/>
<line x1="1582.45" y1="1272.8" x2="1598.45" y2="1272.8" stroke="#000" stroke-width="2.5" stroke-linecap="butt"/>
<line x1="1582.45" y1="1285" x2="1598.45" y2="1285" stroke="#000" stroke-width="2.5" stroke-linecap="butt"/>
<line x1="1626.55" y1="1219.2" x2="1626.55" y2="1236.9" stroke="#000" stroke-width="2.2" stroke-linecap="butt"/>
<line x1="1618.55" y1="1219.2" x2="1634.55" y2="1219.2" stroke="#000" stroke-width="2.5" stroke-linecap="butt"/>
<line x1="1618.55" y1="1236.9" x2="1634.55" y2="1236.9" stroke="#000" stroke-width="2.5" stroke-linecap="butt"/>
<line x1="1662.65" y1="1405.6" x2="1662.65" y2="1421.7" stroke="#000" stroke-width="2.2" stroke-linecap="butt"/>
<line x1="1654.65" y1="1405.6" x2="1670.65" y2="1405.6" stroke="#000" stroke-width="2.5" stroke-linecap="butt"/>
<line x1="1654.65" y1="1421.7" x2="1670.65" y2="1421.7" stroke="#000" stroke-width="2.5" stroke-linecap="butt"/>
<line x1="1698.75" y1="1337" x2="1698.75" y2="1357.4" stroke="#000" stroke-width="2.2" stroke-linecap="butt"/>
<line x1="1690.75" y1="1337" x2="1706.75" y2="1337" stroke="#000" stroke-width="2.5" stroke-linecap="butt"/>
<line x1="1690.75" y1="1357.4" x2="1706.75" y2="1357.4" stroke="#000" stroke-width="2.5" stroke-linecap="butt"/>
<line x1="1734.85" y1="1306.1" x2="1734.85" y2="1323" stroke="#000" stroke-width="2.2" stroke-linecap="butt"/>
<line x1="1726.85" y1="1306.1" x2="1742.85" y2="1306.1" stroke="#000" stroke-width="2.5" stroke-linecap="butt"/>
<line x1="1726.85" y1="1323" x2="1742.85" y2="1323" stroke="#000" stroke-width="2.5" stroke-linecap="butt"/>
<rect x="1799.8" y="1460.25" width="28.7" height="300" fill="#7e0000" stroke="#000" stroke-width="2.3"/>
<rect x="1835.9" y="1405.15" width="28.7" height="355.1" fill="#b8c100" stroke="#000" stroke-width="2.3"/>
<rect x="1872" y="1384.45" width="28.7" height="375.8" fill="#5e0000" stroke="#000" stroke-width="2.3"/>
<rect x="1908.1" y="1459.95" width="28.7" height="300.3" fill="#ff8500" stroke="#000" stroke-width="2.3"/>
<rect x="1944.2" y="1415.15" width="28.7" height="345.1" fill="#7f4100" stroke="#000" stroke-width="2.3"/>
<rect x="1980.3" y="1413.15" width="28.7" height="347.1" fill="#808000" stroke="#000" stroke-width="2.3"/>
<line x1="1814.15" y1="1449.7" x2="1814.15" y2="1469" stroke="#000" stroke-width="2.2" stroke-linecap="butt"/>
<line x1="1806.15" y1="1449.7" x2="1822.15" y2="1449.7" stroke="#000" stroke-width="2.5" stroke-linecap="butt"/>
<line x1="1806.15" y1="1469" x2="1822.15" y2="1469" stroke="#000" stroke-width="2.5" stroke-linecap="butt"/>
<line x1="1850.25" y1="1398.7" x2="1850.25" y2="1411" stroke="#000" stroke-width="2.2" stroke-linecap="butt"/>
<line x1="1842.25" y1="1398.7" x2="1858.25" y2="1398.7" stroke="#000" stroke-width="2.5" stroke-linecap="butt"/>
<line x1="1842.25" y1="1411" x2="1858.25" y2="1411" stroke="#000" stroke-width="2.5" stroke-linecap="butt"/>
<line x1="1886.35" y1="1364.1" x2="1886.35" y2="1403.8" stroke="#000" stroke-width="2.2" stroke-linecap="butt"/>
<line x1="1878.35" y1="1364.1" x2="1894.35" y2="1364.1" stroke="#000" stroke-width="2.5" stroke-linecap="butt"/>
<line x1="1878.35" y1="1403.8" x2="1894.35" y2="1403.8" stroke="#000" stroke-width="2.5" stroke-linecap="butt"/>
<line x1="1922.45" y1="1455.6" x2="1922.45" y2="1466.2" stroke="#000" stroke-width="2.2" stroke-linecap="butt"/>
<line x1="1914.45" y1="1455.6" x2="1930.45" y2="1455.6" stroke="#000" stroke-width="2.5" stroke-linecap="butt"/>
<line x1="1914.45" y1="1466.2" x2="1930.45" y2="1466.2" stroke="#000" stroke-width="2.5" stroke-linecap="butt"/>
<line x1="1958.55" y1="1412" x2="1958.55" y2="1418.7" stroke="#000" stroke-width="2.2" stroke-linecap="butt"/>
<line x1="1950.55" y1="1412" x2="1966.55" y2="1412" stroke="#000" stroke-width="2.5" stroke-linecap="butt"/>
<line x1="1950.55" y1="1418.7" x2="1966.55" y2="1418.7" stroke="#000" stroke-width="2.5" stroke-linecap="butt"/>
<line x1="1994.65" y1="1409.9" x2="1994.65" y2="1415.5" stroke="#000" stroke-width="2.2" stroke-linecap="butt"/>
<line x1="1986.65" y1="1409.9" x2="2002.65" y2="1409.9" stroke="#000" stroke-width="2.5" stroke-linecap="butt"/>
<line x1="1986.65" y1="1415.5" x2="2002.65" y2="1415.5" stroke="#000" stroke-width="2.5" stroke-linecap="butt"/>
<rect x="2059.4" y="1495.25" width="28.7" height="265" fill="#7e0000" stroke="#000" stroke-width="2.3"/>
<rect x="2095.5" y="1440.25" width="28.7" height="320" fill="#b8c100" stroke="#000" stroke-width="2.3"/>
<rect x="2131.6" y="1439.05" width="28.7" height="321.2" fill="#5e0000" stroke="#000" stroke-width="2.3"/>
<rect x="2167.7" y="1484.95" width="28.7" height="275.3" fill="#ff8500" stroke="#000" stroke-width="2.3"/>
<rect x="2203.8" y="1439.55" width="28.7" height="320.7" fill="#7f4100" stroke="#000" stroke-width="2.3"/>
<rect x="2239.9" y="1433.95" width="28.7" height="326.3" fill="#808000" stroke="#000" stroke-width="2.3"/>
<line x1="2073.75" y1="1485" x2="2073.75" y2="1504.8" stroke="#000" stroke-width="2.2" stroke-linecap="butt"/>
<line x1="2065.75" y1="1485" x2="2081.75" y2="1485" stroke="#000" stroke-width="2.5" stroke-linecap="butt"/>
<line x1="2065.75" y1="1504.8" x2="2081.75" y2="1504.8" stroke="#000" stroke-width="2.5" stroke-linecap="butt"/>
<line x1="2109.85" y1="1432.8" x2="2109.85" y2="1447" stroke="#000" stroke-width="2.2" stroke-linecap="butt"/>
<line x1="2101.85" y1="1432.8" x2="2117.85" y2="1432.8" stroke="#000" stroke-width="2.5" stroke-linecap="butt"/>
<line x1="2101.85" y1="1447" x2="2117.85" y2="1447" stroke="#000" stroke-width="2.5" stroke-linecap="butt"/>
<line x1="2145.95" y1="1431" x2="2145.95" y2="1445.6" stroke="#000" stroke-width="2.2" stroke-linecap="butt"/>
<line x1="2137.95" y1="1431" x2="2153.95" y2="1431" stroke="#000" stroke-width="2.5" stroke-linecap="butt"/>
<line x1="2137.95" y1="1445.6" x2="2153.95" y2="1445.6" stroke="#000" stroke-width="2.5" stroke-linecap="butt"/>
<line x1="2182.05" y1="1478.7" x2="2182.05" y2="1490.1" stroke="#000" stroke-width="2.2" stroke-linecap="butt"/>
<line x1="2174.05" y1="1478.7" x2="2190.05" y2="1478.7" stroke="#000" stroke-width="2.5" stroke-linecap="butt"/>
<line x1="2174.05" y1="1490.1" x2="2190.05" y2="1490.1" stroke="#000" stroke-width="2.5" stroke-linecap="butt"/>
<line x1="2218.15" y1="1422.7" x2="2218.15" y2="1455.9" stroke="#000" stroke-width="2.2" stroke-linecap="butt"/>
<line x1="2210.15" y1="1422.7" x2="2226.15" y2="1422.7" stroke="#000" stroke-width="2.5" stroke-linecap="butt"/>
<line x1="2210.15" y1="1455.9" x2="2226.15" y2="1455.9" stroke="#000" stroke-width="2.5" stroke-linecap="butt"/>
<line x1="2254.25" y1="1421.3" x2="2254.25" y2="1447" stroke="#000" stroke-width="2.2" stroke-linecap="butt"/>
<line x1="2246.25" y1="1421.3" x2="2262.25" y2="1421.3" stroke="#000" stroke-width="2.5" stroke-linecap="butt"/>
<line x1="2246.25" y1="1447" x2="2262.25" y2="1447" stroke="#000" stroke-width="2.5" stroke-linecap="butt"/>
<text transform="translate(1546.83,1358.5) scale(1.07,1)" font-family='"Liberation Serif", "Times New Roman", serif' font-weight="700" font-size="42.96">e</text>
<text transform="translate(1582.28,1243.28) scale(0.95,1)" font-family='"Liberation Serif", "Times New Roman", serif' font-weight="700" font-size="43.49">b</text>
<text transform="translate(1615.81,1192.44) scale(0.92,1)" font-family='"Liberation Serif", "Times New Roman", serif' font-weight="700" font-size="46.97">a</text>
<text transform="translate(1654.42,1383.4) scale(1.21,1)" font-family='"Liberation Serif", "Times New Roman", serif' font-weight="700" font-size="43.46">f</text>
<text transform="translate(1685.16,1304.98) scale(1,1)" font-family='"Liberation Serif", "Times New Roman", serif' font-weight="700" font-size="43.06">d</text>
<text transform="translate(1722.06,1272.76) scale(0.94,1)" font-family='"Liberation Serif", "Times New Roman", serif' font-weight="700" font-size="47.66">c</text>
<text transform="translate(1801.82,1426.68) scale(1.02,1)" font-family='"Liberation Serif", "Times New Roman", serif' font-weight="700" font-size="42.78">d</text>
<text transform="translate(1841.6,1369.29) scale(0.94,1)" font-family='"Liberation Serif", "Times New Roman", serif' font-weight="700" font-size="42.35">b</text>
<text transform="translate(1875.53,1342.25) scale(0.86,1)" font-family='"Liberation Serif", "Times New Roman", serif' font-weight="700" font-size="45.93">a</text>
<text transform="translate(1910.94,1426.67) scale(0.98,1)" font-family='"Liberation Serif", "Times New Roman", serif' font-weight="700" font-size="44.34">d</text>
<text transform="translate(1946.98,1381.47) scale(0.95,1)" font-family='"Liberation Serif", "Times New Roman", serif' font-weight="700" font-size="46.62">c</text>
<text transform="translate(1981.58,1378.69) scale(1,1)" font-family='"Liberation Serif", "Times New Roman", serif' font-weight="700" font-size="44.33">c</text>
<text transform="translate(2062.1,1466.68) scale(0.97,1)" font-family='"Liberation Serif", "Times New Roman", serif' font-weight="700" font-size="45.16">c</text>
<text transform="translate(2099.03,1408.85) scale(0.93,1)" font-family='"Liberation Serif", "Times New Roman", serif' font-weight="700" font-size="45.93">a</text>
<text transform="translate(2136.13,1408.56) scale(0.94,1)" font-family='"Liberation Serif", "Times New Roman", serif' font-weight="700" font-size="45.3">a</text>
<text transform="translate(2170.99,1458.27) scale(0.91,1)" font-family='"Liberation Serif", "Times New Roman", serif' font-weight="700" font-size="43.77">b</text>
<text transform="translate(2208.13,1411.66) scale(0.94,1)" font-family='"Liberation Serif", "Times New Roman", serif' font-weight="700" font-size="45.3">a</text>
<text transform="translate(2243.83,1410.66) scale(0.95,1)" font-family='"Liberation Serif", "Times New Roman", serif' font-weight="700" font-size="44.68">a</text>
<rect x="440" y="1674.5" width="230" height="16.5" fill="#fff"/>
<rect x="700" y="1674.5" width="230" height="16.5" fill="#fff"/>
<rect x="960" y="1674.5" width="230" height="16.5" fill="#fff"/>
<rect x="1530" y="1674.5" width="230" height="16.5" fill="#fff"/>
<rect x="1790" y="1674.5" width="230" height="16.5" fill="#fff"/>
<rect x="2050" y="1674.5" width="230" height="16.5" fill="#fff"/>
<rect x="402.2" y="2280.3" width="88.4" height="539.4" fill="#7e0000" stroke="#000" stroke-width="3.8"/>
<rect x="550.8" y="2313.9" width="88.4" height="505.8" fill="#b8c100" stroke="#000" stroke-width="3.8"/>
<rect x="699.4" y="2354.9" width="88.4" height="464.8" fill="#5e0000" stroke="#000" stroke-width="3.8"/>
<rect x="848" y="2233.2" width="88.4" height="586.5" fill="#ff8500" stroke="#000" stroke-width="3.8"/>
<rect x="996.6" y="2263.7" width="88.4" height="556" fill="#7f4100" stroke="#000" stroke-width="3.8"/>
<rect x="1145.2" y="2292" width="88.4" height="527.7" fill="#808000" stroke="#000" stroke-width="3.8"/>
<line x1="446.4" y1="2269" x2="446.4" y2="2291" stroke="#000" stroke-width="3.4" stroke-linecap="butt"/>
<line x1="430.4" y1="2269" x2="462.4" y2="2269" stroke="#000" stroke-width="4.8" stroke-linecap="butt"/>
<line x1="430.4" y1="2291" x2="462.4" y2="2291" stroke="#000" stroke-width="4.8" stroke-linecap="butt"/>
<line x1="595" y1="2306.8" x2="595" y2="2321.4" stroke="#000" stroke-width="3.4" stroke-linecap="butt"/>
<line x1="579" y1="2306.8" x2="611" y2="2306.8" stroke="#000" stroke-width="4.8" stroke-linecap="butt"/>
<line x1="579" y1="2321.4" x2="611" y2="2321.4" stroke="#000" stroke-width="4.8" stroke-linecap="butt"/>
<line x1="743.6" y1="2334.4" x2="743.6" y2="2373.9" stroke="#000" stroke-width="3.4" stroke-linecap="butt"/>
<line x1="727.6" y1="2334.4" x2="759.6" y2="2334.4" stroke="#000" stroke-width="4.8" stroke-linecap="butt"/>
<line x1="727.6" y1="2373.9" x2="759.6" y2="2373.9" stroke="#000" stroke-width="4.8" stroke-linecap="butt"/>
<line x1="892.2" y1="2222.5" x2="892.2" y2="2244.5" stroke="#000" stroke-width="3.4" stroke-linecap="butt"/>
<line x1="876.2" y1="2222.5" x2="908.2" y2="2222.5" stroke="#000" stroke-width="4.8" stroke-linecap="butt"/>
<line x1="876.2" y1="2244.5" x2="908.2" y2="2244.5" stroke="#000" stroke-width="4.8" stroke-linecap="butt"/>
<line x1="1040.8" y1="2252.3" x2="1040.8" y2="2274.4" stroke="#000" stroke-width="3.4" stroke-linecap="butt"/>
<line x1="1024.8" y1="2252.3" x2="1056.8" y2="2252.3" stroke="#000" stroke-width="4.8" stroke-linecap="butt"/>
<line x1="1024.8" y1="2274.4" x2="1056.8" y2="2274.4" stroke="#000" stroke-width="4.8" stroke-linecap="butt"/>
<line x1="1189.4" y1="2277.5" x2="1189.4" y2="2305.2" stroke="#000" stroke-width="3.4" stroke-linecap="butt"/>
<line x1="1173.4" y1="2277.5" x2="1205.4" y2="2277.5" stroke="#000" stroke-width="4.8" stroke-linecap="butt"/>
<line x1="1173.4" y1="2305.2" x2="1205.4" y2="2305.2" stroke="#000" stroke-width="4.8" stroke-linecap="butt"/>
<rect x="1488.1" y="2281" width="88.4" height="539.1" fill="#7e0000" stroke="#000" stroke-width="3.8"/>
<rect x="1636.55" y="2320.4" width="88.4" height="499.7" fill="#b8c100" stroke="#000" stroke-width="3.8"/>
<rect x="1785" y="2358.1" width="88.4" height="462" fill="#5e0000" stroke="#000" stroke-width="3.8"/>
<rect x="1933.45" y="2237.9" width="88.4" height="582.2" fill="#ff8500" stroke="#000" stroke-width="3.8"/>
<rect x="2081.9" y="2253.6" width="88.4" height="566.5" fill="#7f4100" stroke="#000" stroke-width="3.8"/>
<rect x="2230.35" y="2280.4" width="88.4" height="539.7" fill="#808000" stroke="#000" stroke-width="3.8"/>
<line x1="1532.3" y1="2270.6" x2="1532.3" y2="2291.7" stroke="#000" stroke-width="3.4" stroke-linecap="butt"/>
<line x1="1516.3" y1="2270.6" x2="1548.3" y2="2270.6" stroke="#000" stroke-width="4.8" stroke-linecap="butt"/>
<line x1="1516.3" y1="2291.7" x2="1548.3" y2="2291.7" stroke="#000" stroke-width="4.8" stroke-linecap="butt"/>
<line x1="1680.75" y1="2309" x2="1680.75" y2="2330.4" stroke="#000" stroke-width="3.4" stroke-linecap="butt"/>
<line x1="1664.75" y1="2309" x2="1696.75" y2="2309" stroke="#000" stroke-width="4.8" stroke-linecap="butt"/>
<line x1="1664.75" y1="2330.4" x2="1696.75" y2="2330.4" stroke="#000" stroke-width="4.8" stroke-linecap="butt"/>
<line x1="1829.2" y1="2346.2" x2="1829.2" y2="2369.5" stroke="#000" stroke-width="3.4" stroke-linecap="butt"/>
<line x1="1813.2" y1="2346.2" x2="1845.2" y2="2346.2" stroke="#000" stroke-width="4.8" stroke-linecap="butt"/>
<line x1="1813.2" y1="2369.5" x2="1845.2" y2="2369.5" stroke="#000" stroke-width="4.8" stroke-linecap="butt"/>
<line x1="1977.65" y1="2226.5" x2="1977.65" y2="2248.6" stroke="#000" stroke-width="3.4" stroke-linecap="butt"/>
<line x1="1961.65" y1="2226.5" x2="1993.65" y2="2226.5" stroke="#000" stroke-width="4.8" stroke-linecap="butt"/>
<line x1="1961.65" y1="2248.6" x2="1993.65" y2="2248.6" stroke="#000" stroke-width="4.8" stroke-linecap="butt"/>
<line x1="2126.1" y1="2243.8" x2="2126.1" y2="2261.8" stroke="#000" stroke-width="3.4" stroke-linecap="butt"/>
<line x1="2110.1" y1="2243.8" x2="2142.1" y2="2243.8" stroke="#000" stroke-width="4.8" stroke-linecap="butt"/>
<line x1="2110.1" y1="2261.8" x2="2142.1" y2="2261.8" stroke="#000" stroke-width="4.8" stroke-linecap="butt"/>
<line x1="2274.55" y1="2271.2" x2="2274.55" y2="2288.5" stroke="#000" stroke-width="3.4" stroke-linecap="butt"/>
<line x1="2258.55" y1="2271.2" x2="2290.55" y2="2271.2" stroke="#000" stroke-width="4.8" stroke-linecap="butt"/>
<line x1="2258.55" y1="2288.5" x2="2290.55" y2="2288.5" stroke="#000" stroke-width="4.8" stroke-linecap="butt"/>
<text transform="translate(425.31,2247.29) scale(0.99,1)" font-family='"Liberation Serif", "Times New Roman", serif' font-weight="700" font-size="76.59">c</text>
<text transform="translate(578.11,2289.27) scale(1.02,1)" font-family='"Liberation Serif", "Times New Roman", serif' font-weight="700" font-size="74.61">d</text>
<text transform="translate(728.88,2322.49) scale(1.04,1)" font-family='"Liberation Serif", "Times New Roman", serif' font-weight="700" font-size="76.54">e</text>
<text transform="translate(877.65,2206.44) scale(0.94,1)" font-family='"Liberation Serif", "Times New Roman", serif' font-weight="700" font-size="77.66">a</text>
<text transform="translate(1023.26,2231.77) scale(0.99,1)" font-family='"Liberation Serif", "Times New Roman", serif' font-weight="700" font-size="74.76">b</text>
<text transform="translate(1172.1,2254.8) scale(1.01,1)" font-family='"Liberation Serif", "Times New Roman", serif' font-weight="700" font-size="75.34">c</text>
<text transform="translate(1516.2,2249.36) scale(0.96,1)" font-family='"Liberation Serif", "Times New Roman", serif' font-weight="700" font-size="79.3">c</text>
<text transform="translate(1659.54,2289.98) scale(1.06,1)" font-family='"Liberation Serif", "Times New Roman", serif' font-weight="700" font-size="73.34">d</text>
<text transform="translate(1813.69,2313.97) scale(0.97,1)" font-family='"Liberation Serif", "Times New Roman", serif' font-weight="700" font-size="78.83">e</text>
<text transform="translate(1962.04,2206.24) scale(0.93,1)" font-family='"Liberation Serif", "Times New Roman", serif' font-weight="700" font-size="78.29">a</text>
<text transform="translate(2109.35,2229.57) scale(1.01,1)" font-family='"Liberation Serif", "Times New Roman", serif' font-weight="700" font-size="74.76">b</text>
<text transform="translate(2261.13,2254.8) scale(1,1)" font-family='"Liberation Serif", "Times New Roman", serif' font-weight="700" font-size="75.34">c</text>
<rect x="294.5" y="64.2" width="1044.5" height="808.3" fill="none" stroke="#000" stroke-width="6.4" stroke-linejoin="round"/>
<rect x="1383.5" y="64" width="1044" height="810.4" fill="none" stroke="#000" stroke-width="6.4" stroke-linejoin="round"/>
<rect x="297" y="949.4" width="1039.5" height="809.9" fill="none" stroke="#000" stroke-width="6.4" stroke-linejoin="round"/>
<rect x="1384.5" y="949.4" width="1041" height="810" fill="none" stroke="#000" stroke-width="6.4" stroke-linejoin="round"/>
<rect x="299.2" y="2011.6" width="1039.3" height="808" fill="none" stroke="#000" stroke-width="6.4" stroke-linejoin="round"/>
<rect x="1384.5" y="2010.1" width="1038.5" height="809.9" fill="none" stroke="#000" stroke-width="6.4" stroke-linejoin="round"/>
<rect x="292" y="1674.3" width="10" height="17.4" fill="#fff"/>
<line x1="279.8" y1="1690.6" x2="313.8" y2="1657.6" stroke="#000" stroke-width="5" stroke-linecap="round"/>
<line x1="279.8" y1="1707.8" x2="313.8" y2="1675.3" stroke="#000" stroke-width="5" stroke-linecap="round"/>
<rect x="1331.5" y="1674.3" width="10" height="17.4" fill="#fff"/>
<line x1="1319.3" y1="1690.6" x2="1353.3" y2="1657.6" stroke="#000" stroke-width="5" stroke-linecap="round"/>
<line x1="1319.3" y1="1707.8" x2="1353.3" y2="1675.3" stroke="#000" stroke-width="5" stroke-linecap="round"/>
<rect x="1379.5" y="1674.3" width="10" height="17.4" fill="#fff"/>
<line x1="1367.3" y1="1690.6" x2="1401.3" y2="1657.6" stroke="#000" stroke-width="5" stroke-linecap="round"/>
<line x1="1367.3" y1="1707.8" x2="1401.3" y2="1675.3" stroke="#000" stroke-width="5" stroke-linecap="round"/>
<rect x="2420.5" y="1674.3" width="10" height="17.4" fill="#fff"/>
<line x1="2408.3" y1="1690.6" x2="2442.3" y2="1657.6" stroke="#000" stroke-width="5" stroke-linecap="round"/>
<line x1="2408.3" y1="1707.8" x2="2442.3" y2="1675.3" stroke="#000" stroke-width="5" stroke-linecap="round"/>
<line x1="294.5" y1="198.5" x2="321.3" y2="198.5" stroke="#000" stroke-width="5.8" stroke-linecap="round"/>
<line x1="294.5" y1="333.8" x2="321.3" y2="333.8" stroke="#000" stroke-width="5.8" stroke-linecap="round"/>
<line x1="294.5" y1="468.5" x2="321.3" y2="468.5" stroke="#000" stroke-width="5.8" stroke-linecap="round"/>
<line x1="294.5" y1="603.6" x2="321.3" y2="603.6" stroke="#000" stroke-width="5.8" stroke-linecap="round"/>
<line x1="294.5" y1="737.7" x2="321.3" y2="737.7" stroke="#000" stroke-width="5.8" stroke-linecap="round"/>
<line x1="1383.5" y1="198.3" x2="1410.3" y2="198.3" stroke="#000" stroke-width="5.8" stroke-linecap="round"/>
<line x1="1383.5" y1="334" x2="1410.3" y2="334" stroke="#000" stroke-width="5.8" stroke-linecap="round"/>
<line x1="1383.5" y1="468.9" x2="1410.3" y2="468.9" stroke="#000" stroke-width="5.8" stroke-linecap="round"/>
<line x1="1383.5" y1="603.9" x2="1410.3" y2="603.9" stroke="#000" stroke-width="5.8" stroke-linecap="round"/>
<line x1="1383.5" y1="739.4" x2="1410.3" y2="739.4" stroke="#000" stroke-width="5.8" stroke-linecap="round"/>
<line x1="297" y1="1103.7" x2="323.8" y2="1103.7" stroke="#000" stroke-width="5.8" stroke-linecap="round"/>
<line x1="297" y1="1257.7" x2="323.8" y2="1257.7" stroke="#000" stroke-width="5.8" stroke-linecap="round"/>
<line x1="297" y1="1410.9" x2="323.8" y2="1410.9" stroke="#000" stroke-width="5.8" stroke-linecap="round"/>
<line x1="297" y1="1565" x2="323.8" y2="1565" stroke="#000" stroke-width="5.8" stroke-linecap="round"/>
<line x1="1384.5" y1="1103.5" x2="1411.3" y2="1103.5" stroke="#000" stroke-width="5.8" stroke-linecap="round"/>
<line x1="1384.5" y1="1257.7" x2="1411.3" y2="1257.7" stroke="#000" stroke-width="5.8" stroke-linecap="round"/>
<line x1="1384.5" y1="1410.9" x2="1411.3" y2="1410.9" stroke="#000" stroke-width="5.8" stroke-linecap="round"/>
<line x1="1384.5" y1="1565" x2="1411.3" y2="1565" stroke="#000" stroke-width="5.8" stroke-linecap="round"/>
<line x1="299.2" y1="2134.6" x2="326" y2="2134.6" stroke="#000" stroke-width="5.8" stroke-linecap="round"/>
<line x1="299.2" y1="2271.8" x2="326" y2="2271.8" stroke="#000" stroke-width="5.8" stroke-linecap="round"/>
<line x1="299.2" y1="2408.9" x2="326" y2="2408.9" stroke="#000" stroke-width="5.8" stroke-linecap="round"/>
<line x1="299.2" y1="2546.1" x2="326" y2="2546.1" stroke="#000" stroke-width="5.8" stroke-linecap="round"/>
<line x1="299.2" y1="2683.2" x2="326" y2="2683.2" stroke="#000" stroke-width="5.8" stroke-linecap="round"/>
<line x1="1384.5" y1="2133.5" x2="1411.3" y2="2133.5" stroke="#000" stroke-width="5.8" stroke-linecap="round"/>
<line x1="1384.5" y1="2270.6" x2="1411.3" y2="2270.6" stroke="#000" stroke-width="5.8" stroke-linecap="round"/>
<line x1="1384.5" y1="2407.7" x2="1411.3" y2="2407.7" stroke="#000" stroke-width="5.8" stroke-linecap="round"/>
<line x1="1384.5" y1="2544.8" x2="1411.3" y2="2544.8" stroke="#000" stroke-width="5.8" stroke-linecap="round"/>
<line x1="1384.5" y1="2681.9" x2="1411.3" y2="2681.9" stroke="#000" stroke-width="5.8" stroke-linecap="round"/>
<line x1="555.6" y1="872.5" x2="555.6" y2="900" stroke="#000" stroke-width="6.5" stroke-linecap="round"/>
<line x1="816" y1="872.5" x2="816" y2="900" stroke="#000" stroke-width="6.5" stroke-linecap="round"/>
<line x1="1077.2" y1="872.5" x2="1077.2" y2="900" stroke="#000" stroke-width="6.5" stroke-linecap="round"/>
<line x1="1643.7" y1="874.4" x2="1643.7" y2="901.9" stroke="#000" stroke-width="6.5" stroke-linecap="round"/>
<line x1="1904" y1="874.4" x2="1904" y2="901.9" stroke="#000" stroke-width="6.5" stroke-linecap="round"/>
<line x1="2165" y1="874.4" x2="2165" y2="901.9" stroke="#000" stroke-width="6.5" stroke-linecap="round"/>
<line x1="556.3" y1="1759.3" x2="556.3" y2="1786.8" stroke="#000" stroke-width="6.5" stroke-linecap="round"/>
<line x1="816.5" y1="1759.3" x2="816.5" y2="1786.8" stroke="#000" stroke-width="6.5" stroke-linecap="round"/>
<line x1="1075.4" y1="1759.3" x2="1075.4" y2="1786.8" stroke="#000" stroke-width="6.5" stroke-linecap="round"/>
<line x1="1643.9" y1="1759.4" x2="1643.9" y2="1786.9" stroke="#000" stroke-width="6.5" stroke-linecap="round"/>
<line x1="1903.7" y1="1759.4" x2="1903.7" y2="1786.9" stroke="#000" stroke-width="6.5" stroke-linecap="round"/>
<line x1="2163.1" y1="1759.4" x2="2163.1" y2="1786.9" stroke="#000" stroke-width="6.5" stroke-linecap="round"/>
<line x1="445.6" y1="2819.6" x2="445.6" y2="2847.1" stroke="#000" stroke-width="6.5" stroke-linecap="round"/>
<line x1="595.2" y1="2819.6" x2="595.2" y2="2847.1" stroke="#000" stroke-width="6.5" stroke-linecap="round"/>
<line x1="743.5" y1="2819.6" x2="743.5" y2="2847.1" stroke="#000" stroke-width="6.5" stroke-linecap="round"/>
<line x1="891.9" y1="2819.6" x2="891.9" y2="2847.1" stroke="#000" stroke-width="6.5" stroke-linecap="round"/>
<line x1="1040.2" y1="2819.6" x2="1040.2" y2="2847.1" stroke="#000" stroke-width="6.5" stroke-linecap="round"/>
<line x1="1188.5" y1="2819.6" x2="1188.5" y2="2847.1" stroke="#000" stroke-width="6.5" stroke-linecap="round"/>
<line x1="1531.4" y1="2820" x2="1531.4" y2="2847.5" stroke="#000" stroke-width="6.5" stroke-linecap="round"/>
<line x1="1679.8" y1="2820" x2="1679.8" y2="2847.5" stroke="#000" stroke-width="6.5" stroke-linecap="round"/>
<line x1="1828.8" y1="2820" x2="1828.8" y2="2847.5" stroke="#000" stroke-width="6.5" stroke-linecap="round"/>
<line x1="1977.2" y1="2820" x2="1977.2" y2="2847.5" stroke="#000" stroke-width="6.5" stroke-linecap="round"/>
<line x1="2126.3" y1="2820" x2="2126.3" y2="2847.5" stroke="#000" stroke-width="6.5" stroke-linecap="round"/>
<line x1="2274.7" y1="2820" x2="2274.7" y2="2847.5" stroke="#000" stroke-width="6.5" stroke-linecap="round"/>
<text transform="translate(192.15,83.97) scale(1.02,1)" font-family='"Liberation Sans", Arial, sans-serif' font-weight="400" font-size="61.5" stroke="#000" stroke-width="0.79" stroke-linejoin="round">30</text>
<text transform="translate(192.33,218.27) scale(1.02,1)" font-family='"Liberation Sans", Arial, sans-serif' font-weight="400" font-size="61.5" stroke="#000" stroke-width="0.79" stroke-linejoin="round">25</text>
<text transform="translate(192.15,353.57) scale(1.02,1)" font-family='"Liberation Sans", Arial, sans-serif' font-weight="400" font-size="61.5" stroke="#000" stroke-width="0.79" stroke-linejoin="round">20</text>
<text transform="translate(192.33,487.96) scale(1.02,1)" font-family='"Liberation Sans", Arial, sans-serif' font-weight="400" font-size="61.5" stroke="#000" stroke-width="0.79" stroke-linejoin="round">15</text>
<text transform="translate(192.15,623.37) scale(1.02,1)" font-family='"Liberation Sans", Arial, sans-serif' font-weight="400" font-size="61.5" stroke="#000" stroke-width="0.79" stroke-linejoin="round">10</text>
<text transform="translate(227.39,757.16) scale(1.02,1)" font-family='"Liberation Sans", Arial, sans-serif' font-weight="400" font-size="61.5" stroke="#000" stroke-width="0.79" stroke-linejoin="round">5</text>
<text transform="translate(227.2,892.27) scale(1.02,1)" font-family='"Liberation Sans", Arial, sans-serif' font-weight="400" font-size="61.5" stroke="#000" stroke-width="0.79" stroke-linejoin="round">0</text>
<text transform="translate(158.59,970.17) scale(1.02,1)" font-family='"Liberation Sans", Arial, sans-serif' font-weight="400" font-size="61.5" stroke="#000" stroke-width="0.79" stroke-linejoin="round">600</text>
<text transform="translate(158.59,1124.47) scale(1.02,1)" font-family='"Liberation Sans", Arial, sans-serif' font-weight="400" font-size="61.5" stroke="#000" stroke-width="0.79" stroke-linejoin="round">500</text>
<text transform="translate(158.59,1278.47) scale(1.02,1)" font-family='"Liberation Sans", Arial, sans-serif' font-weight="400" font-size="61.5" stroke="#000" stroke-width="0.79" stroke-linejoin="round">400</text>
<text transform="translate(158.59,1431.67) scale(1.02,1)" font-family='"Liberation Sans", Arial, sans-serif' font-weight="400" font-size="61.5" stroke="#000" stroke-width="0.79" stroke-linejoin="round">300</text>
<text transform="translate(158.59,1585.77) scale(1.02,1)" font-family='"Liberation Sans", Arial, sans-serif' font-weight="400" font-size="61.5" stroke="#000" stroke-width="0.79" stroke-linejoin="round">200</text>
<text transform="translate(228.7,1778.17) scale(1.02,1)" font-family='"Liberation Sans", Arial, sans-serif' font-weight="400" font-size="61.5" stroke="#000" stroke-width="0.79" stroke-linejoin="round">0</text>
<text transform="translate(161.89,2154.97) scale(1.02,1)" font-family='"Liberation Sans", Arial, sans-serif' font-weight="400" font-size="61.5" stroke="#000" stroke-width="0.79" stroke-linejoin="round">100</text>
<text transform="translate(196.95,2292.17) scale(1.02,1)" font-family='"Liberation Sans", Arial, sans-serif' font-weight="400" font-size="61.5" stroke="#000" stroke-width="0.79" stroke-linejoin="round">80</text>
<text transform="translate(196.95,2429.27) scale(1.02,1)" font-family='"Liberation Sans", Arial, sans-serif' font-weight="400" font-size="61.5" stroke="#000" stroke-width="0.79" stroke-linejoin="round">60</text>
<text transform="translate(196.95,2566.47) scale(1.02,1)" font-family='"Liberation Sans", Arial, sans-serif' font-weight="400" font-size="61.5" stroke="#000" stroke-width="0.79" stroke-linejoin="round">40</text>
<text transform="translate(196.95,2703.57) scale(1.02,1)" font-family='"Liberation Sans", Arial, sans-serif' font-weight="400" font-size="61.5" stroke="#000" stroke-width="0.79" stroke-linejoin="round">20</text>
<text transform="translate(232,2842.77) scale(1.02,1)" font-family='"Liberation Sans", Arial, sans-serif' font-weight="400" font-size="61.5" stroke="#000" stroke-width="0.79" stroke-linejoin="round">0</text>
<text transform="translate(376.37,167.8) scale(0.98,1)" font-family='"Liberation Sans", Arial, sans-serif' font-weight="400" font-size="68.61" stroke="#000" stroke-width="1.21" stroke-linejoin="round">A</text>
<text transform="translate(714.79,158.34) scale(1.04,1)" font-family='"Liberation Sans", Arial, sans-serif' font-weight="400" font-size="67.23" stroke="#000" stroke-width="2.35" stroke-linejoin="round">2021</text>
<text transform="translate(1465.52,164.2) scale(0.97,1)" font-family='"Liberation Sans", Arial, sans-serif' font-weight="400" font-size="69.19" stroke="#000" stroke-width="1.22" stroke-linejoin="round">D</text>
<text transform="translate(1806.11,160.44) scale(1.04,1)" font-family='"Liberation Sans", Arial, sans-serif' font-weight="400" font-size="67.09" stroke="#000" stroke-width="2.36" stroke-linejoin="round">2022</text>
<text transform="translate(384.36,1051.2) scale(0.86,1)" font-family='"Liberation Sans", Arial, sans-serif' font-weight="400" font-size="68.46" stroke="#000" stroke-width="3.02" stroke-linejoin="round">B</text>
<text transform="translate(734.82,1038.34) scale(1.03,1)" font-family='"Liberation Sans", Arial, sans-serif' font-weight="400" font-size="67.23" stroke="#000" stroke-width="2.36" stroke-linejoin="round">2021</text>
<text transform="translate(1471.41,1051.5) scale(0.71,1)" font-family='"Liberation Sans", Arial, sans-serif' font-weight="400" font-size="67.01" stroke="#000" stroke-width="3.33" stroke-linejoin="round">E</text>
<text transform="translate(1821.7,1037.46) scale(1.05,1)" font-family='"Liberation Sans", Arial, sans-serif' font-weight="400" font-size="65.96" stroke="#000" stroke-width="2.34" stroke-linejoin="round">2022</text>
<text transform="translate(385.34,2110.55) scale(0.85,1)" font-family='"Liberation Sans", Arial, sans-serif' font-weight="400" font-size="66.52" stroke="#000" stroke-width="3.04" stroke-linejoin="round">C</text>
<text transform="translate(754.42,2094.44) scale(1.03,1)" font-family='"Liberation Sans", Arial, sans-serif' font-weight="400" font-size="67.23" stroke="#000" stroke-width="2.37" stroke-linejoin="round">2021</text>
<text transform="translate(1472.57,2112.8) scale(0.76,1)" font-family='"Liberation Sans", Arial, sans-serif' font-weight="400" font-size="66.13" stroke="#000" stroke-width="3.21" stroke-linejoin="round">F</text>
<text transform="translate(1824.6,2097.34) scale(1.03,1)" font-family='"Liberation Sans", Arial, sans-serif' font-weight="400" font-size="67.65" stroke="#000" stroke-width="2.37" stroke-linejoin="round">2022</text>
<rect x="965.1" y="85.1" width="91.6" height="22.3" fill="#7e0000" stroke="#000" stroke-width="2.2"/>
<text transform="translate(1081.52,108.94) scale(0.9,1)" font-family='"Liberation Sans", Arial, sans-serif' font-weight="400" font-size="36.86" stroke="#000" stroke-width="1.9" stroke-linejoin="round" letter-spacing="5">CF-LN</text>
<rect x="965.1" y="133.4" width="91.6" height="21.8" fill="#b8c100" stroke="#000" stroke-width="2.2"/>
<text transform="translate(1081.52,156.99) scale(0.9,1)" font-family='"Liberation Sans", Arial, sans-serif' font-weight="400" font-size="36.86" stroke="#000" stroke-width="1.9" stroke-linejoin="round" letter-spacing="7.62">CF-MN</text>
<rect x="965.1" y="181.2" width="91.6" height="22.3" fill="#5e0000" stroke="#000" stroke-width="2.2"/>
<text transform="translate(1081.52,205.04) scale(0.9,1)" font-family='"Liberation Sans", Arial, sans-serif' font-weight="400" font-size="36.86" stroke="#000" stroke-width="1.9" stroke-linejoin="round" letter-spacing="6.58">CF-HN</text>
<rect x="965.1" y="228.3" width="91.6" height="22.3" fill="#ff8500" stroke="#000" stroke-width="2.2"/>
<text transform="translate(1081.42,252.5) scale(1.06,1)" font-family='"Liberation Sans", Arial, sans-serif' font-weight="400" font-size="37.94" stroke="#000" stroke-width="1.75" stroke-linejoin="round" letter-spacing="2.32">AWMD-LN</text>
<rect x="965.1" y="275.2" width="91.6" height="22.3" fill="#7f4100" stroke="#000" stroke-width="2.2"/>
<text transform="translate(1081.42,299.4) scale(1.06,1)" font-family='"Liberation Sans", Arial, sans-serif' font-weight="400" font-size="37.94" stroke="#000" stroke-width="1.75" stroke-linejoin="round" letter-spacing="3.38">AWMD-MN</text>
<rect x="965.1" y="323" width="91.6" height="22.3" fill="#808000" stroke="#000" stroke-width="2.2"/>
<text transform="translate(1081.42,347.2) scale(1.06,1)" font-family='"Liberation Sans", Arial, sans-serif' font-weight="400" font-size="37.94" stroke="#000" stroke-width="1.75" stroke-linejoin="round" letter-spacing="2.92">AWMD-HN</text>
<text transform="translate(527.18,1871.2) scale(0.86,1)" font-family='"Liberation Sans", Arial, sans-serif' font-weight="400" font-size="61.63" stroke="#000" stroke-width="2.38" stroke-linejoin="round">JT</text>
<text transform="translate(768.95,1871.8) scale(1.02,1)" font-family='"Liberation Sans", Arial, sans-serif' font-weight="400" font-size="62.5" stroke="#000" stroke-width="2.17" stroke-linejoin="round">HD</text>
<text transform="translate(1024.33,1871.8) scale(1.07,1)" font-family='"Liberation Sans", Arial, sans-serif' font-weight="400" font-size="62.5" stroke="#000" stroke-width="2.13" stroke-linejoin="round">MA</text>
<text transform="translate(1615.29,1871.2) scale(0.84,1)" font-family='"Liberation Sans", Arial, sans-serif' font-weight="400" font-size="61.63" stroke="#000" stroke-width="2.4" stroke-linejoin="round">JT</text>
<text transform="translate(1857.61,1871.8) scale(1.01,1)" font-family='"Liberation Sans", Arial, sans-serif' font-weight="400" font-size="62.5" stroke="#000" stroke-width="2.19" stroke-linejoin="round">HD</text>
<text transform="translate(2112.98,1871.8) scale(1.06,1)" font-family='"Liberation Sans", Arial, sans-serif' font-weight="400" font-size="62.5" stroke="#000" stroke-width="2.14" stroke-linejoin="round">MA</text>
<text transform="translate(629.96,1944.27)" font-family='"Liberation Sans", Arial, sans-serif' font-weight="400" font-size="56.54" stroke="#000" stroke-width="2" stroke-linejoin="round" letter-spacing="4.55">Gowth stage</text>
<text transform="translate(1691.06,1944.19)" font-family='"Liberation Sans", Arial, sans-serif' font-weight="400" font-size="56.43" stroke="#000" stroke-width="2" stroke-linejoin="round" letter-spacing="4.48">Growth stage</text>
<text transform="translate(131.6,822.12) rotate(-90)" font-family='"Liberation Sans", Arial, sans-serif' font-weight="400" font-size="60" stroke="#000" stroke-width="1" stroke-linejoin="round" letter-spacing="3.3">Dry matter weight</text>
<text transform="translate(131.6,280.37) rotate(-90) scale(1.07,1)" font-family='"Liberation Sans", Arial, sans-serif' font-weight="400" font-size="60" stroke="#000" stroke-width="0.97" stroke-linejoin="round">(t ha</text>
<text transform="translate(98.6,149.67) rotate(-90) scale(1.09,1)" font-family='"Liberation Sans", Arial, sans-serif' font-weight="400" font-size="38.5" stroke="#000" stroke-width="0.77" stroke-linejoin="round">−1</text>
<text transform="translate(131.6,99.35) rotate(-90) scale(0.97,1)" font-family='"Liberation Sans", Arial, sans-serif' font-weight="400" font-size="61" stroke="#000" stroke-width="1.01" stroke-linejoin="round">)</text>
<text transform="translate(70.6,1654.22) rotate(-90)" font-family='"Liberation Sans", Arial, sans-serif' font-weight="400" font-size="60" stroke="#000" stroke-width="1" stroke-linejoin="round" letter-spacing="3.1">Number of tillers and</text>
<text transform="translate(140.6,1595.88) rotate(-90)" font-family='"Liberation Sans", Arial, sans-serif' font-weight="400" font-size="60" stroke="#000" stroke-width="1" stroke-linejoin="round" letter-spacing="2.43">mail stems per m</text>
<text transform="translate(113.6,1101.28) rotate(-90) scale(1.07,1)" font-family='"Liberation Sans", Arial, sans-serif' font-weight="400" font-size="38.6" stroke="#000" stroke-width="0.77" stroke-linejoin="round">2</text>
<text transform="translate(102.3,2938.7) rotate(-90)" font-family='"Liberation Sans", Arial, sans-serif' font-weight="400" font-size="67" stroke="#000" stroke-width="1" stroke-linejoin="round" letter-spacing="2.35">Percentage of productive tillers</text>
<text transform="translate(102.3,1926.3) rotate(-90) scale(0.77,1)" font-family='"Liberation Sans", Arial, sans-serif' font-weight="400" font-size="67" stroke="#000" stroke-width="1.14" stroke-linejoin="round">(%)</text>
<text transform="translate(456.6,2912.2) rotate(-25.1) translate(-171.91,-1) scale(0.92,1)" font-family='"Liberation Sans", Arial, sans-serif' font-weight="400" font-size="55.87" stroke="#000" stroke-width="2.09" stroke-linejoin="round" letter-spacing="6.46">CF-LN</text>
<text transform="translate(606.2,2912.2) rotate(-25.1) translate(-199.91,-1) scale(0.92,1)" font-family='"Liberation Sans", Arial, sans-serif' font-weight="400" font-size="55.87" stroke="#000" stroke-width="2.09" stroke-linejoin="round" letter-spacing="10.2">CF-MN</text>
<text transform="translate(754.5,2912.2) rotate(-25.1) translate(-188.71,-1) scale(0.92,1)" font-family='"Liberation Sans", Arial, sans-serif' font-weight="400" font-size="55.87" stroke="#000" stroke-width="2.09" stroke-linejoin="round" letter-spacing="8.71">CF-HN</text>
<text transform="translate(902.9,2912.2) rotate(-25.1) translate(-308.22,-1) scale(1.08,1)" font-family='"Liberation Sans", Arial, sans-serif' font-weight="400" font-size="55.87" stroke="#000" stroke-width="1.92" stroke-linejoin="round" letter-spacing="3.69">AWMD-LN</text>
<text transform="translate(1051.2,2912.2) rotate(-25.1) translate(-335.22,-1) scale(1.08,1)" font-family='"Liberation Sans", Arial, sans-serif' font-weight="400" font-size="55.87" stroke="#000" stroke-width="1.92" stroke-linejoin="round" letter-spacing="5.28">AWMD-MN</text>
<text transform="translate(1199.5,2912.2) rotate(-25.1) translate(-324.02,-1) scale(1.08,1)" font-family='"Liberation Sans", Arial, sans-serif' font-weight="400" font-size="55.87" stroke="#000" stroke-width="1.92" stroke-linejoin="round" letter-spacing="4.58">AWMD-HN</text>
<text transform="translate(1542.4,2912.2) rotate(-25.1) translate(-171.91,-1) scale(0.92,1)" font-family='"Liberation Sans", Arial, sans-serif' font-weight="400" font-size="55.87" stroke="#000" stroke-width="2.09" stroke-linejoin="round" letter-spacing="6.46">CF-LN</text>
<text transform="translate(1690.8,2912.2) rotate(-25.1) translate(-199.91,-1) scale(0.92,1)" font-family='"Liberation Sans", Arial, sans-serif' font-weight="400" font-size="55.87" stroke="#000" stroke-width="2.09" stroke-linejoin="round" letter-spacing="10.2">CF-MN</text>
<text transform="translate(1839.8,2912.2) rotate(-25.1) translate(-188.71,-1) scale(0.92,1)" font-family='"Liberation Sans", Arial, sans-serif' font-weight="400" font-size="55.87" stroke="#000" stroke-width="2.09" stroke-linejoin="round" letter-spacing="8.71">CF-HN</text>
<text transform="translate(1988.2,2912.2) rotate(-25.1) translate(-308.22,-1) scale(1.08,1)" font-family='"Liberation Sans", Arial, sans-serif' font-weight="400" font-size="55.87" stroke="#000" stroke-width="1.92" stroke-linejoin="round" letter-spacing="3.69">AWMD-LN</text>
<text transform="translate(2137.3,2912.2) rotate(-25.1) translate(-335.22,-1) scale(1.08,1)" font-family='"Liberation Sans", Arial, sans-serif' font-weight="400" font-size="55.87" stroke="#000" stroke-width="1.92" stroke-linejoin="round" letter-spacing="5.28">AWMD-MN</text>
<text transform="translate(2285.7,2912.2) rotate(-25.1) translate(-324.02,-1) scale(1.08,1)" font-family='"Liberation Sans", Arial, sans-serif' font-weight="400" font-size="55.87" stroke="#000" stroke-width="1.92" stroke-linejoin="round" letter-spacing="4.58">AWMD-HN</text>
</svg>
</body></html>
